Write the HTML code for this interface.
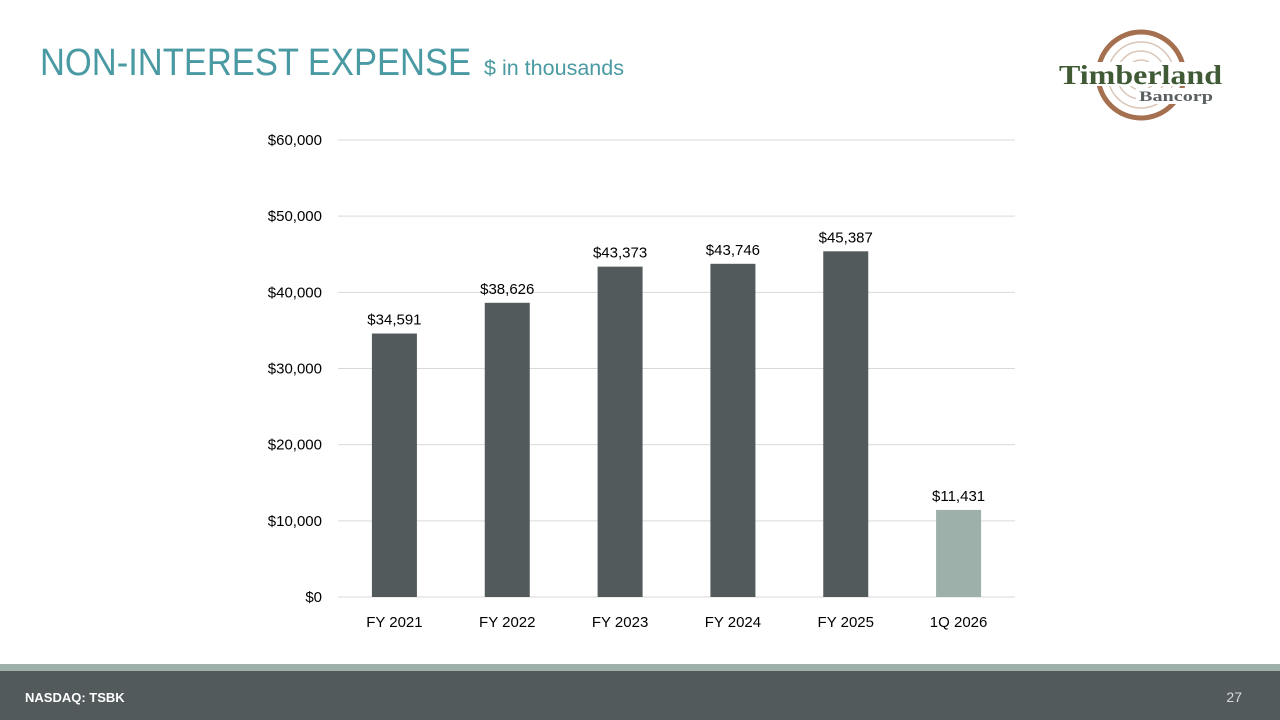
<!DOCTYPE html>
<html><head><meta charset="utf-8"><style>
html,body{margin:0;padding:0;background:#fff;}
svg{display:block;font-family:"Liberation Sans",sans-serif;}
</style></head><body>
<svg id="chart" width="1280" height="720" viewBox="0 0 1280 720">
  <text x="40" y="75" font-size="38" fill="#4a9aa3" textLength="431" lengthAdjust="spacingAndGlyphs">NON-INTEREST EXPENSE</text>
  <text x="484" y="75" font-size="21" fill="#4a9aa3" textLength="140" lengthAdjust="spacingAndGlyphs">$ in thousands</text>
  <g>
    <circle cx="1141" cy="75" r="43" fill="none" stroke="#a5704f" stroke-width="5"/>
    <circle cx="1141" cy="75" r="33" fill="none" stroke="#d9c6b8" stroke-width="1.5"/>
    <circle cx="1141" cy="75" r="24" fill="none" stroke="#d9c6b8" stroke-width="1.5"/>
    <circle cx="1141" cy="75" r="15" fill="none" stroke="#d9c6b8" stroke-width="1.5"/>
    <rect x="1058" y="62" width="166" height="24" fill="#fff"/>
    <text x="1059" y="84" font-size="27" font-weight="bold" font-family="Liberation Serif,serif" fill="#3f5a35" textLength="163" lengthAdjust="spacingAndGlyphs">Timberland</text>
    <rect x="1136" y="88" width="80" height="16" fill="#fff"/>
    <text x="1139" y="101" font-size="15" font-weight="bold" font-family="Liberation Serif,serif" fill="#5a5f61" textLength="74" lengthAdjust="spacingAndGlyphs">Bancorp</text>
  </g>
  <g id="plot"></g>
  <rect x="0" y="664" width="1280" height="7" fill="#9db0a9"/>
  <rect x="0" y="671" width="1280" height="49" fill="#525a5c"/>
  <text x="25" y="702" font-size="13" font-weight="bold" fill="#fff">NASDAQ: TSBK</text>
  <text x="1242" y="702" font-size="14" fill="#d8dcdc" text-anchor="end">27</text>
</svg>
<script>
const categories = ["FY 2021","FY 2022","FY 2023","FY 2024","FY 2025","1Q 2026"];
const values = [34591,38626,43373,43746,45387,11431];
const valueLabels = ["$34,591","$38,626","$43,373","$43,746","$45,387","$11,431"];
const yTicks = [0,10000,20000,30000,40000,50000,60000];
const yTickLabels = ["$0","$10,000","$20,000","$30,000","$40,000","$50,000","$60,000"];

const NS="http://www.w3.org/2000/svg";
const g=document.getElementById('plot');
const x0=338,x1=1015,yB=597,yT=140,yMax=60000;
const y=v=>yB-(v/yMax)*(yB-yT);
const step=(x1-x0)/categories.length;
const xc=i=>x0+step*(i+0.5);
function mk(t,a){const e=document.createElementNS(NS,t);for(const k in a)e.setAttribute(k,a[k]);g.appendChild(e);return e;}
yTicks.forEach((v,i)=>{
  const l=mk('line',{x1:x0,x2:x1,y1:y(v),y2:y(v),stroke:'#d9d9d9','stroke-width':1});
  
  
  const t=mk('text',{x:322,y:y(v)+5,'font-size':15,fill:'#000','text-anchor':'end'});
  t.textContent=yTickLabels[i];
  
  
});
categories.forEach((c,i)=>{
  const bw=45;
  const r=mk('rect',{x:xc(i)-bw/2,y:y(values[i]),width:bw,height:yB-y(values[i]),fill:i===5?'#9db0a9':'#525a5c'});
  
  
  const vl=mk('text',{x:xc(i),y:y(values[i])-9,'font-size':15,fill:'#000','text-anchor':'middle'});
  vl.textContent=valueLabels[i];
  
  
  const cl=mk('text',{x:xc(i),y:627,'font-size':15,fill:'#000','text-anchor':'middle'});
  cl.textContent=c;
  
  
});
</script>
</body></html>
